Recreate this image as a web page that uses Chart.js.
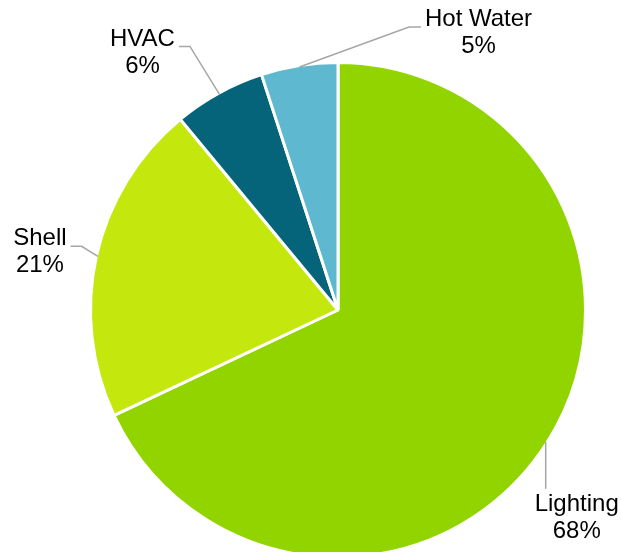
<!DOCTYPE html>
<html>
<head>
<meta charset="utf-8">
<script src="https://cdn.jsdelivr.net/npm/chart.js@4"></script>
<style>
  html, body { margin: 0; padding: 0; background: #fff; overflow: hidden; }
  #wrap { width: 621px; height: 570px; position: relative; }
</style>
</head>
<body>
<div id="wrap"><canvas id="endUse"></canvas></div>
<script>
const categories = ['Lighting', 'Shell', 'HVAC', 'Hot Water'];
const shares = [68, 21, 6, 5];
const sliceColors = ['#92D400', '#C4E80E', '#05637A', '#5EB8CF'];

// where each label sits relative to the slice's outer midpoint, and how its leader runs
const labelPlacement = [
    { dx: 31, dy: 76, leader: 'top' },
    { dx: -58, dy: -4, leader: 'toLeftLabel' },
    { dx: -77, dy: -42, leader: 'toLeftLabel' },
    { dx: 179, dy: -34, leader: 'toRightLabel' }
];

const FONT = '24px "Liberation Sans", Arial, sans-serif';
const LINE_H = 27;

const pieLabels = {
    id: 'pieLabels',
    afterDatasetsDraw(chart) {
        const ctx = chart.ctx;
        const arcs = chart.getDatasetMeta(0).data;
        ctx.save();
        ctx.font = FONT;
        ctx.textAlign = 'center';
        ctx.textBaseline = 'middle';
        arcs.forEach((arc, i) => {
            const mid = (arc.startAngle + arc.endAngle) / 2;
            const r = arc.outerRadius - 1.5;
            const ax = arc.x + Math.cos(mid) * r;
            const ay = arc.y + Math.sin(mid) * r;
            const p = labelPlacement[i];
            const cx = ax + p.dx;
            const cy = ay + p.dy;
            const lines = [categories[i], shares[i] + '%'];
            const w = Math.max(...lines.map(t => ctx.measureText(t).width));

            ctx.strokeStyle = '#A6A6A6';
            ctx.lineWidth = 1.5;
            ctx.beginPath();
            ctx.moveTo(ax, ay);
            if (p.leader === 'top') {
                ctx.lineTo(ax, cy - LINE_H - 2);
            } else if (p.leader === 'toLeftLabel') {
                const ex = cx + w / 2 + 4;
                ctx.lineTo(ex + 11, cy - 6);
                ctx.lineTo(ex, cy - 6);
            } else {
                const ex = cx - w / 2 - 4;
                ctx.lineTo(ex - 12, cy - 6);
                ctx.lineTo(ex, cy - 6);
            }
            ctx.stroke();

            ctx.fillStyle = '#000';
            ctx.fillText(lines[0], cx, cy - LINE_H / 2);
            ctx.fillText(lines[1], cx, cy + LINE_H / 2);
        });
        ctx.restore();
    }
};

new Chart(document.getElementById('endUse'), {
    type: 'pie',
    data: {
        labels: categories,
        datasets: [{
            data: shares,
            backgroundColor: sliceColors,
            borderColor: '#fff',
            borderWidth: 3
        }]
    },
    options: {
        responsive: true,
        maintainAspectRatio: false,
        animation: false,
        layout: { padding: { left: 89, right: 34, top: 61, bottom: 11 } },
        plugins: {
            legend: { display: false },
            tooltip: { enabled: false }
        }
    },
    plugins: [pieLabels]
});
</script>
</body>
</html>
